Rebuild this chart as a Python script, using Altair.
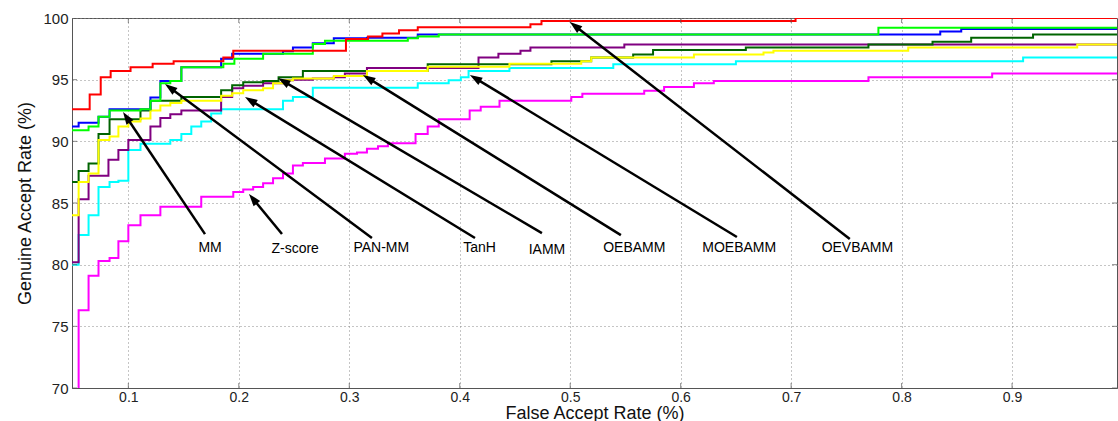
import math
import altair as alt
import pandas as pd

X_MIN, X_MAX = 0.049, 0.995
Y_MIN, Y_MAX = 70.0, 100.0
W, H = 1045, 370
FONT = "Liberation Sans"

x_ticks = [0.1, 0.2, 0.3, 0.4, 0.5, 0.6, 0.7, 0.8, 0.9]
y_ticks = [70, 75, 80, 85, 90, 95, 100]

# drawing order (bottom -> top) and colours
methods = ["Z-score", "MOEBAMM", "TanH", "IAMM", "OEBAMM", "MM", "PAN-MM", "OEVBAMM"]
colors = ["#ff00ff", "#00ffff", "#800080", "#006400", "#ffff00", "#0000ff", "#00ff00", "#ff0000"]

zscore_x = [0.049, 0.055, 0.064, 0.073, 0.083, 0.091, 0.100, 0.111, 0.129, 0.166, 0.195, 0.204,
            0.213, 0.222, 0.231, 0.240, 0.249, 0.258, 0.278, 0.296, 0.307, 0.316, 0.326, 0.335,
            0.360, 0.371, 0.381, 0.409, 0.419, 0.436, 0.501, 0.511, 0.567, 0.585, 0.612, 0.630,
            0.770, 0.882, 0.995]
zscore_y = [69.0, 76.3, 79.1, 80.3, 80.55, 81.9, 83.2, 84.0, 84.7, 85.5, 85.9, 86.1,
            86.3, 86.6, 87.0, 87.4, 88.05, 88.25, 88.6, 89.0, 89.1, 89.4, 89.6, 89.85,
            90.6, 91.2, 91.8, 92.5, 92.8, 93.3, 93.6, 93.85, 94.1, 94.4, 94.7, 94.9,
            95.2, 95.5, 95.5]

moebamm_x = [0.049, 0.055, 0.064, 0.073, 0.083, 0.091, 0.100, 0.111, 0.138, 0.148, 0.157, 0.166,
             0.175, 0.184, 0.240, 0.249, 0.267, 0.362, 0.390, 0.401, 0.408, 0.445, 0.539, 0.650,
             0.910, 0.995]
moebamm_y = [80.0, 82.4, 84.0, 86.3, 86.7, 86.8, 89.3, 89.8, 90.1, 90.6, 91.2, 91.6,
             92.25, 92.6, 93.3, 93.6, 94.35, 94.7, 94.95, 95.2, 95.7, 95.95, 96.25, 96.5,
             96.8, 96.8]

tanh_x = [0.049, 0.055, 0.064, 0.082, 0.091, 0.100, 0.120, 0.129, 0.138, 0.148, 0.184, 0.194,
          0.204, 0.222, 0.240, 0.249, 0.267, 0.286, 0.296, 0.316, 0.417, 0.435, 0.455, 0.464,
          0.549, 0.995]
tanh_y = [80.2, 85.3, 87.2, 88.5, 89.3, 90.1, 91.2, 91.9, 92.2, 92.5, 93.6, 94.3,
          94.5, 94.7, 94.95, 95.0, 95.1, 95.2, 95.5, 95.95, 96.8, 97.1, 97.35, 97.6,
          97.86, 97.86]

iamm_x = [0.049, 0.055, 0.064, 0.073, 0.083, 0.111, 0.120, 0.148, 0.184, 0.194, 0.204, 0.222,
          0.236, 0.258, 0.371, 0.483, 0.519, 0.557, 0.575, 0.659, 0.770, 0.828, 0.863, 0.919,
          0.995]
iamm_y = [86.7, 87.6, 88.2, 90.6, 91.8, 92.5, 93.3, 93.6, 94.15, 94.55, 94.8, 94.9,
          95.2, 95.7, 96.25, 96.5, 96.8, 97.05, 97.4, 97.6, 97.86, 98.08, 98.4, 98.67,
          98.67]

oebamm_x = [0.049, 0.055, 0.064, 0.073, 0.083, 0.091, 0.100, 0.111, 0.120, 0.129, 0.138, 0.148,
            0.184, 0.194, 0.204, 0.222, 0.231, 0.240, 0.249, 0.286, 0.316, 0.371, 0.445, 0.510,
            0.519, 0.612, 0.675, 0.684, 0.806, 0.959, 0.995]
oebamm_y = [84.0, 86.7, 87.4, 90.1, 90.4, 91.2, 91.6, 91.85, 92.5, 92.9, 93.1, 93.3,
            93.7, 93.9, 94.15, 94.3, 94.7, 94.95, 95.1, 95.3, 95.7, 96.05, 96.3, 96.5,
            96.8, 97.05, 97.2, 97.35, 97.6, 97.86, 97.86]

mm_x = [0.049, 0.055, 0.073, 0.083, 0.120, 0.129, 0.148, 0.184, 0.194, 0.240, 0.249, 0.267,
        0.286, 0.316, 0.362, 0.835, 0.854, 0.995]
mm_y = [91.2, 91.5, 92.0, 92.6, 93.55, 94.9, 96.0, 96.7, 97.1, 97.3, 97.6, 97.95,
        98.35, 98.4, 98.67, 98.9, 99.1, 99.1]

panmm_x = [0.049, 0.064, 0.073, 0.083, 0.111, 0.120, 0.129, 0.138, 0.148, 0.186, 0.196, 0.222,
           0.267, 0.278, 0.353, 0.362, 0.381, 0.779, 0.995]
panmm_y = [90.9, 91.2, 92.0, 92.5, 92.6, 93.3, 94.7, 94.9, 96.0, 96.3, 96.7, 97.1,
           97.9, 98.15, 98.35, 98.5, 98.67, 99.2, 99.2]

oevbamm_x = [0.049, 0.065, 0.075, 0.084, 0.102, 0.122, 0.141, 0.186, 0.195, 0.297, 0.317, 0.330,
             0.345, 0.362, 0.464, 0.474, 0.704, 0.995]
oevbamm_y = [92.6, 93.8, 95.2, 95.7, 96.0, 96.3, 96.5, 96.8, 97.35, 98.3, 98.5, 98.75,
             99.0, 99.25, 99.5, 99.75, 100.0, 100.0]

series = {
    "Z-score": (zscore_x, zscore_y),
    "MOEBAMM": (moebamm_x, moebamm_y),
    "TanH": (tanh_x, tanh_y),
    "IAMM": (iamm_x, iamm_y),
    "OEBAMM": (oebamm_x, oebamm_y),
    "MM": (mm_x, mm_y),
    "PAN-MM": (panmm_x, panmm_y),
    "OEVBAMM": (oevbamm_x, oevbamm_y),
}

# annotation labels and arrows
ann_names = ["MM", "Z-score", "PAN-MM", "TanH", "IAMM", "OEBAMM", "MOEBAMM", "OEVBAMM"]
label_x = [0.174, 0.251, 0.329, 0.418, 0.479, 0.558, 0.653, 0.760]
label_y = [81.35, 81.3, 81.35, 81.35, 81.2, 81.35, 81.35, 81.35]
tail_x = [0.1694, 0.2391, 0.3205, 0.4138, 0.4744, 0.5459, 0.6509, 0.7531]
tail_y = [82.48, 82.48, 82.16, 82.16, 82.56, 82.40, 82.24, 82.08]
tip_x = [0.0952, 0.2092, 0.1332, 0.2056, 0.2355, 0.3124, 0.4092, 0.4997]
tip_y = [92.38, 85.73, 94.65, 93.59, 95.13, 95.38, 95.38, 99.68]

xs = alt.Scale(domain=[X_MIN, X_MAX], nice=False, zero=False)
ys = alt.Scale(domain=[Y_MIN, Y_MAX], nice=False, zero=False)

x_axis = alt.Axis(values=x_ticks, format=".1f", title="False Accept Rate (%)", ticks=False,
                  grid=True, gridDash=[1, 3], gridColor="#8a8a8a", labelPadding=2,
                  titleY=30, titleBaseline="alphabetic", labelFontSize=14, titleFontSize=18,
                  labelFont=FONT, titleFont=FONT, titleFontWeight="normal", labelColor="#222",
                  titleColor="#111", domainColor="#555", labelFlush=False)
y_axis = alt.Axis(values=y_ticks, title="Genuine Accept Rate (%)", ticks=False, grid=True,
                  gridDash=[1, 3], gridColor="#8a8a8a", labelPadding=4, titlePadding=8,
                  labelFontSize=15, titleFontSize=18, labelFont=FONT, titleFont=FONT,
                  titleFontWeight="normal", labelColor="#222", titleColor="#111",
                  domainColor="#555", labelFlush=False)


def X(field):
    return alt.X(field, type="quantitative", scale=xs, axis=x_axis)


def Y(field):
    return alt.Y(field, type="quantitative", scale=ys, axis=y_axis)


layers = []
for i, name in enumerate(methods):
    sx, sy = series[name]
    d = pd.DataFrame({"far": sx, "gar": sy})
    layers.append(
        alt.Chart(d).mark_line(interpolate="step-after", color=colors[i], strokeWidth=2,
                               clip=True).encode(x=X("far"), y=Y("gar"))
    )

# inward tick marks on all four sides (clipped to inside the box)
tick_len = 10
bt = pd.DataFrame({"far": x_ticks + x_ticks, "gar": [Y_MIN] * len(x_ticks) + [Y_MAX] * len(x_ticks)})
lt = pd.DataFrame({"far": [X_MIN] * len(y_ticks) + [X_MAX] * len(y_ticks), "gar": y_ticks + y_ticks})
layers.append(alt.Chart(bt).mark_tick(orient="vertical", size=tick_len, thickness=1, color="#555",
                                      clip=True).encode(x=X("far"), y=Y("gar")))
layers.append(alt.Chart(lt).mark_tick(orient="horizontal", size=tick_len, thickness=1, color="#555",
                                      clip=True).encode(x=X("far"), y=Y("gar")))

# arrows
sxp = W / (X_MAX - X_MIN)
syp = H / (Y_MAX - Y_MIN)
arows = []
for n, lx, ly, tx, ty, px, py in zip(ann_names, label_x, label_y, tail_x, tail_y, tip_x, tip_y):
    dxp = (px - tx) * sxp
    dyp = -(py - ty) * syp
    norm = math.hypot(dxp, dyp)
    ang = math.degrees(math.atan2(dxp, -dyp)) % 360
    back = 7.0
    ex = px - dxp / norm * back / sxp
    ey = py + dyp / norm * back / syp
    arows.append({"far": tx, "gar": ty, "px": px, "py": py, "ex": ex, "ey": ey,
                  "lx": lx, "ly": ly, "ang": ang, "name": n})
adf = pd.DataFrame(arows)

layers.append(alt.Chart(adf).mark_rule(color="black", strokeWidth=2.5).encode(
    x=X("far"), y=Y("gar"), x2="ex:Q", y2="ey:Q"))
layers.append(alt.Chart(adf).mark_point(shape="M0,0L0.34,1L-0.34,1Z", size=620, filled=True,
                                        color="black", opacity=1, strokeWidth=0).encode(
    x=X("px"), y=Y("py"), angle=alt.Angle("ang:Q", scale=None)))
layers.append(alt.Chart(adf).mark_text(font=FONT, fontSize=14, color="black", baseline="middle",
                                       align="center").encode(
    x=X("lx"), y=Y("ly"), text="name:N"))

chart = alt.layer(*layers).properties(
    width=W, height=H,
    autosize=alt.AutoSizeParams(type="none"),
    padding={"left": 72, "top": 18, "right": 1, "bottom": 33},
    background="white",
).configure_view(stroke="#555", strokeWidth=1)

chart.save("out.html", embed_options={"renderer": "svg", "actions": False})
